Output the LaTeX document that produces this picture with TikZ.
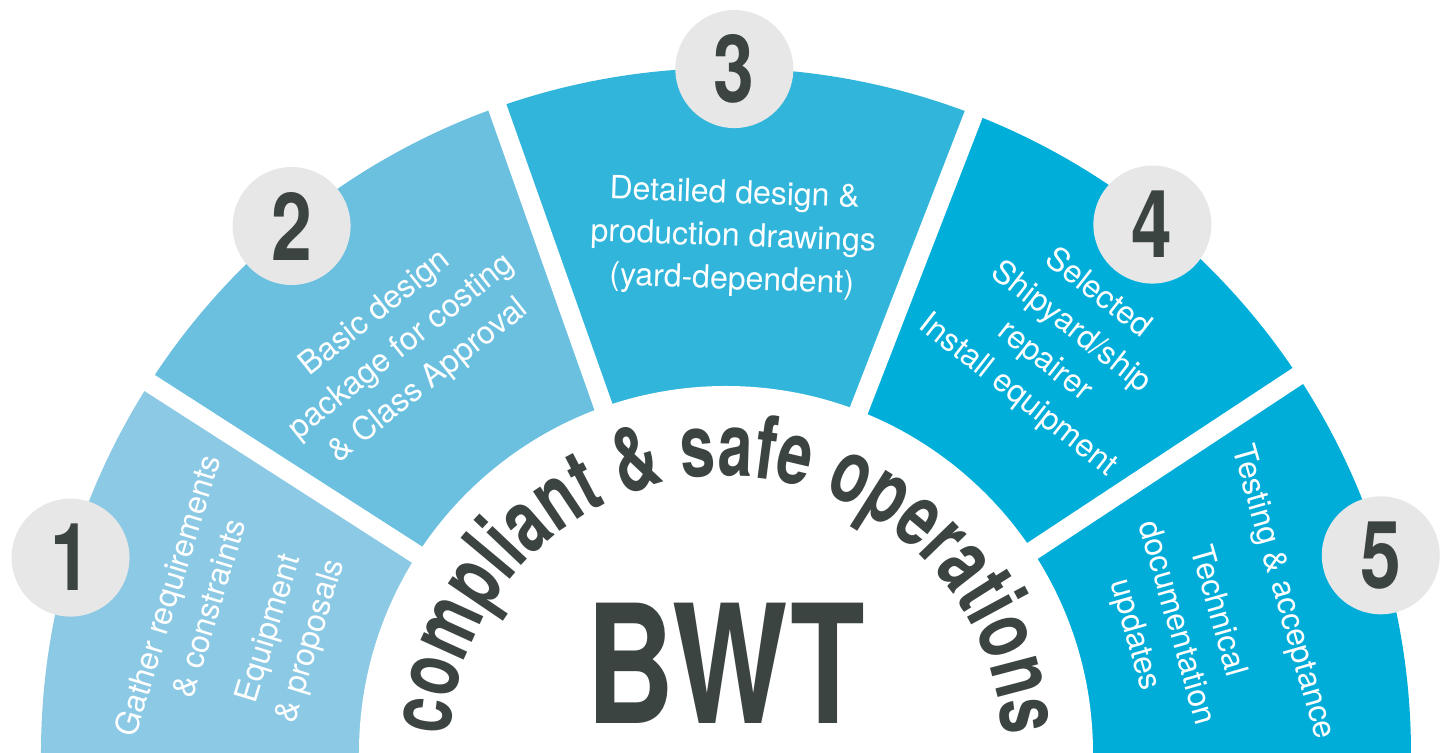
\documentclass[tikz,border=0pt]{standalone}
\usepackage{fontspec}
\setmainfont{TeX Gyre Heros}
\newfontfamily\numfont[FakeStretch=0.78]{TeX Gyre Heros}
\newfontfamily\arcfont[FakeStretch=0.71]{TeX Gyre Heros}
\newfontfamily\bwtfont[FakeStretch=0.74]{TeX Gyre Heros}
\usetikzlibrary{decorations.text}
\definecolor{segone}{HTML}{8BC9E4}
\definecolor{segtwo}{HTML}{6BC0E0}
\definecolor{segthree}{HTML}{32B5DB}
\definecolor{segfour}{HTML}{00AEDA}
\definecolor{segfive}{HTML}{00ADD9}
\definecolor{darktext}{HTML}{3C4442}
\definecolor{ringgray}{HTML}{E7E7E7}
\begin{document}
\begin{tikzpicture}[x=0.02cm,y=0.02cm,
  numcircle/.style={circle, fill=ringgray, minimum size=2.36cm, inner sep=0pt, text=darktext,
    font=\numfont\bfseries\fontsize{53.5}{60}\selectfont},
  segtext/.style={text=white, align=center, inner sep=0pt, font=\fontsize{18.2}{24.5}\selectfont}]
\useasboundingbox (-726,0) rectangle (719,753);

% segments
\fill[segone] (0,0) -- (180:685) arc[start angle=180, end angle=147.3, radius=685] -- cycle;
\fill[segtwo] (0,0) -- (147.3:685) arc[start angle=147.3, end angle=109.5, radius=685] -- cycle;
\fill[segthree] (0,0) -- (109.5:685) arc[start angle=109.5, end angle=68.8, radius=685] -- cycle;
\fill[segfour] (0,0) -- (68.8:685) arc[start angle=68.8, end angle=33.4, radius=685] -- cycle;
\fill[segfive] (0,0) -- (33.4:685) arc[start angle=33.4, end angle=0, radius=685] -- cycle;
\foreach \a in {147.3,109.5,68.8,33.4}
  \draw[white, line width=0.38cm] (0,0) -- (\a:700);
\fill[white] (0,0) circle[radius=367];

% centre
\path[decorate, decoration={text along path, text align=center, text color=darktext,
  text={|\arcfont\bfseries\fontsize{50}{60}\selectfont|compliant {\&} safe operations}}]
  (180:277) arc[start angle=180, end angle=0, radius=277];
\node[text=darktext, inner sep=0pt, font=\bwtfont\bfseries\fontsize{94}{100}\selectfont] (bwt) at (0,90) {BWT};

% steps
\node[numcircle] (1) at (163.4:684) {1};
\node[numcircle] (2) at (129.5:683) {2};
\node[numcircle] (3) at (89.3:684) {3};
\node[numcircle] (4) at (51.1:679) {4};
\node[numcircle] (5) at (16.8:684) {5};

\node[segtext, rotate=73] (s1a) at (164.3:559) {Gather requirements\\\& constraints};
\node[segtext, rotate=73] (s1b) at (164.8:451) {Equipment\\\& proposals};
\node[segtext, rotate=38.5] (s2) at (128.6:519) {Basic design\\package for costing\\\& Class Approval};
\node[segtext, rotate=-2] (s3) at (89.2:515) {Detailed design \&\\production drawings\\(yard-dependent)};
\node[segtext, rotate=-38] (s4) at (50.9:526) {Selected\\Shipyard/ship\\repairer\\Install equipment};
\node[segtext, rotate=-74] (s5a) at (16.1:579) {Testing \& acceptance};
\node[segtext, rotate=-74] (s5b) at (16.1:468) {Technical\\documentation\\updates};
\end{tikzpicture}
\end{document}
